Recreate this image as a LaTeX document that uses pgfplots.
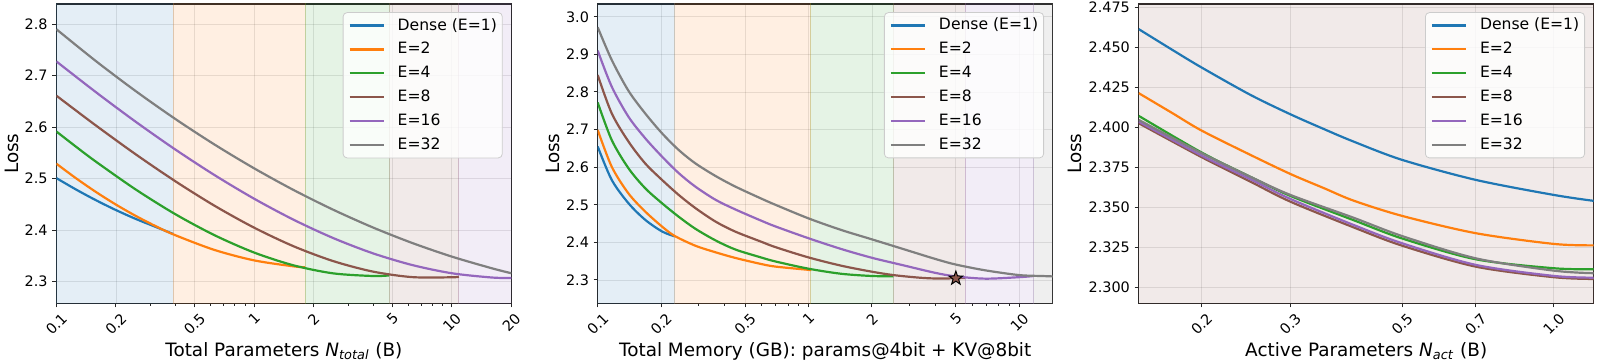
\documentclass[border=0pt]{standalone}
\usepackage{fontspec}
\setmainfont{DejaVu Sans}
\usepackage{graphicx}
\usepackage{pgfplots}
\pgfplotsset{compat=1.18}

% tab10 palette
\definecolor{cB}{HTML}{1F77B4}
\definecolor{cO}{HTML}{FF7F0E}
\definecolor{cG}{HTML}{2CA02C}
\definecolor{cR}{HTML}{8C564B}
\definecolor{cP}{HTML}{9467BD}
\definecolor{cY}{HTML}{7F7F7F}

% filled five-pointed star
\pgfdeclareplotmark{fivestar}{%
  \pgfpathmoveto{\pgfpointpolar{90}{\pgfplotmarksize}}%
  \pgfpathlineto{\pgfpointpolar{126}{0.4\pgfplotmarksize}}%
  \pgfpathlineto{\pgfpointpolar{162}{\pgfplotmarksize}}%
  \pgfpathlineto{\pgfpointpolar{198}{0.4\pgfplotmarksize}}%
  \pgfpathlineto{\pgfpointpolar{234}{\pgfplotmarksize}}%
  \pgfpathlineto{\pgfpointpolar{270}{0.4\pgfplotmarksize}}%
  \pgfpathlineto{\pgfpointpolar{306}{\pgfplotmarksize}}%
  \pgfpathlineto{\pgfpointpolar{342}{0.4\pgfplotmarksize}}%
  \pgfpathlineto{\pgfpointpolar{18}{\pgfplotmarksize}}%
  \pgfpathlineto{\pgfpointpolar{54}{0.4\pgfplotmarksize}}%
  \pgfpathclose
  \pgfusepathqfillstroke}

\newcommand{\rl}[1]{\rotatebox{45}{#1}}

\pgfplotsset{
  region/.style={draw=#1, draw opacity=0.2, line width=0.5pt,
    fill=#1, fill opacity=0.12, forget plot},
  every axis plot/.append style={line width=1.1pt},
  legend image code/.code={\draw[#1, line width=1.1pt] (0pt,0pt) -- (17pt,0pt);},
}

\begin{document}
\begin{tikzpicture}[
  every axis/.append style={
    width=227.5pt, height=149.65pt, scale only axis,
    tick pos=left, tick align=outside,
    major tick length=2pt, minor tick length=1.2pt,
    tick style={black!85, line width=0.5pt},
    axis line style={black!85, line width=0.6pt},
    grid=major, major grid style={black, opacity=0.1, line width=0.4pt},
    tick label style={font=\fontsize{7.2}{8}\selectfont},
    xticklabel style={anchor=north, inner sep=0pt, yshift=-2.2pt},
    yticklabel style={anchor=east, inner sep=0pt, xshift=-2.2pt},
    label style={font=\fontsize{9.2}{10}\selectfont},
    ylabel style={at={(axis description cs:-0.0976,0.5)}, anchor=center},
    xlabel style={at={(axis description cs:0.5,-0.1595)}, anchor=center},
    legend cell align=left,
    legend style={at={(1,1)}, anchor=north east, xshift=-4.35pt, yshift=-4.1pt,
      draw=black!20, rounded corners=2pt, fill=white, fill opacity=0.8,
      text opacity=1, font=\fontsize{7.8}{9}\selectfont,
      inner xsep=2.7pt, inner ysep=2.7pt, row sep=4.45pt,
      nodes={inner sep=0pt, text height=6pt, text depth=1.5pt},
      /tikz/every odd column/.append style={column sep=6.5pt}},
  }]

% ---------------- total parameters ----------------
\begin{axis}[xmode=log, at={(28.2pt,0pt)}, anchor=south west,
  xmin=0.1, xmax=20, ymin=2.258, ymax=2.839,
  xtick={0.1,0.2,0.5,1,2,5,10,20},
  xticklabels={\rl{0.1},\rl{0.2},\rl{0.5},\rl{1},\rl{2},\rl{5},\rl{10},\rl{20}},
  minor xtick={0.3,0.4,0.6,0.7,0.8,0.9,3,4,6,7,8,9},
  ytick={2.3,2.4,2.5,2.6,2.7,2.8},
  yticklabels={2.3,2.4,2.5,2.6,2.7,2.8},
  ylabel={Loss},
  xlabel={Total Parameters \textit{N}\textsubscript{\textit{total}} (B)}]
\addplot[region=cB] coordinates {(0.1,2.2) (0.1,2.9) (0.39,2.9) (0.39,2.2)};
\addplot[region=cO] coordinates {(0.39,2.2) (0.39,2.9) (1.81,2.9) (1.81,2.2)};
\addplot[region=cG] coordinates {(1.81,2.2) (1.81,2.9) (4.81,2.9) (4.81,2.2)};
\addplot[region=cR] coordinates {(4.81,2.2) (4.81,2.9) (10.84,2.9) (10.84,2.2)};
\addplot[region=cP] coordinates {(10.84,2.2) (10.84,2.9) (20,2.9) (20,2.2)};

\addplot[cB, smooth] coordinates {(0.1,2.501) (0.1259,2.4787) (0.1585,2.4581) (0.1995,2.4392) (0.2512,2.4220) (0.3162,2.4066) (0.39,2.3925)};
\addlegendentry{Dense (E=1)}
\addplot[cO, smooth] coordinates {(0.1,2.529) (0.1259,2.5005) (0.1585,2.4741) (0.1995,2.4499) (0.2512,2.4279) (0.3162,2.4081) (0.3981,2.3904) (0.631,2.3615) (1,2.3413) (1.585,2.3297) (1.81,2.3281)};
\addlegendentry{E=2}
\addplot[cG, smooth] coordinates {(0.1,2.5915) (0.1259,2.5617) (0.1585,2.5329) (0.2512,2.4792) (0.3981,2.4313) (0.631,2.3901) (1,2.3565) (1.585,2.3316) (2.512,2.3161) (3.981,2.3110) (4.81,2.3121)};
\addlegendentry{E=4}
\addplot[cR, smooth] coordinates {(0.1,2.661) (0.1585,2.6031) (0.2512,2.5475) (0.3981,2.4953) (0.631,2.4473) (1,2.4048) (1.585,2.3686) (2.512,2.3399) (3.981,2.3196) (6.31,2.3088) (10,2.3085) (10.84,2.3096)};
\addlegendentry{E=8}
\addplot[cP, smooth] coordinates {(0.1,2.7275) (0.1585,2.6678) (0.2512,2.6107) (0.3981,2.5569) (0.631,2.5068) (1,2.461) (1.585,2.4201) (2.512,2.3846) (3.981,2.3551) (6.31,2.3322) (10,2.3163) (15.85,2.3081) (20,2.307)};
\addlegendentry{E=16}
\addplot[cY, smooth] coordinates {(0.1,2.790) (0.1585,2.7281) (0.2512,2.6702) (0.3981,2.6162) (0.631,2.5661) (1,2.520) (1.585,2.4778) (2.512,2.4396) (3.981,2.4053) (6.31,2.3750) (10,2.3486) (15.85,2.3262) (20,2.3163)};
\addlegendentry{E=32}
\end{axis}

% ---------------- total memory ----------------
\begin{axis}[xmode=log, at={(298.85pt,0pt)}, anchor=south west,
  xmin=0.1, xmax=14.4, ymin=2.238, ymax=3.034,
  xtick={0.1,0.2,0.5,1,2,5,10},
  xticklabels={\rl{0.1},\rl{0.2},\rl{0.5},\rl{1},\rl{2},\rl{5},\rl{10}},
  minor xtick={0.3,0.4,0.6,0.7,0.8,0.9,3,4,6,7,8,9},
  ytick={2.3,2.4,2.5,2.6,2.7,2.8,2.9,3.0},
  yticklabels={2.3,2.4,2.5,2.6,2.7,2.8,2.9,3.0},
  ylabel={Loss},
  xlabel={Total Memory (GB): params@4bit + KV@8bit}]
\addplot[region=cB] coordinates {(0.1,2.2) (0.1,3.1) (0.232,3.1) (0.232,2.2)};
\addplot[region=cO] coordinates {(0.232,2.2) (0.232,3.1) (1.022,3.1) (1.022,2.2)};
\addplot[region=cG] coordinates {(1.022,2.2) (1.022,3.1) (2.53,3.1) (2.53,2.2)};
\addplot[region=cR] coordinates {(2.53,2.2) (2.53,3.1) (5.55,3.1) (5.55,2.2)};
\addplot[region=cP] coordinates {(5.55,2.2) (5.55,3.1) (11.68,3.1) (11.68,2.2)};
\addplot[region=cY] coordinates {(11.68,2.2) (11.68,3.1) (14.4,3.1) (14.4,2.2)};

\addplot[cB, smooth] coordinates {(0.1,2.655) (0.1166,2.566) (0.14,2.504) (0.168,2.460) (0.202,2.429) (0.232,2.416)};
\addlegendentry{Dense (E=1)}
\addplot[cO, smooth] coordinates {(0.1,2.699) (0.1166,2.601) (0.14,2.530) (0.168,2.482) (0.202,2.442) (0.232,2.417) (0.291,2.391) (0.363,2.3735) (0.45,2.3586) (0.595,2.3426) (0.7,2.3355) (1.0,2.327) (1.022,2.3266)};
\addlegendentry{E=2}
\addplot[cG, smooth] coordinates {(0.1,2.772) (0.1166,2.672) (0.14,2.597) (0.168,2.544) (0.202,2.504) (0.2425,2.468) (0.291,2.436) (0.363,2.405) (0.45,2.381) (0.595,2.360) (0.7,2.349) (1.0,2.330) (1.43,2.3165) (2.0,2.3106) (2.53,2.310)};
\addlegendentry{E=4}
\addplot[cR, smooth] coordinates {(0.1,2.845) (0.1166,2.743) (0.14,2.668) (0.168,2.610) (0.202,2.566) (0.2425,2.526) (0.291,2.491) (0.363,2.455) (0.45,2.4285) (0.595,2.402) (0.7,2.387) (1.0,2.360) (1.43,2.338) (2.0,2.322) (2.53,2.313) (3.3,2.3065) (3.99,2.304) (5,2.3045) (5.55,2.3055)};
\addlegendentry{E=8}
\addplot[cP, smooth] coordinates {(0.1,2.910) (0.1166,2.814) (0.14,2.734) (0.168,2.677) (0.202,2.628) (0.2425,2.584) (0.291,2.548) (0.363,2.513) (0.45,2.4875) (0.595,2.458) (0.7,2.442) (1.0,2.411) (1.43,2.3824) (2.0,2.359) (2.77,2.340) (3.99,2.319) (5,2.3095) (6.92,2.3035) (10,2.3075) (11.68,2.3105)};
\addlegendentry{E=16}
\addplot[cY, smooth] coordinates {(0.1,2.972) (0.1166,2.885) (0.14,2.803) (0.168,2.743) (0.202,2.690) (0.2425,2.6455) (0.291,2.6099) (0.363,2.5763) (0.45,2.5483) (0.595,2.5168) (0.7,2.4995) (1.0,2.4638) (1.43,2.433) (2.0,2.408) (2.77,2.3835) (3.99,2.356) (5,2.341) (6.92,2.3255) (10,2.313) (12.9,2.3105) (14.4,2.3095)};
\addlegendentry{E=32}
\addplot[only marks, mark=fivestar, mark size=3.6pt, fill=cR, draw=black, line width=0.5pt, forget plot] coordinates {(5,2.3045)};
\end{axis}

% ---------------- active parameters ----------------
\begin{axis}[xmode=log, at={(569.35pt,0pt)}, anchor=south west,
  xmin=0.15, xmax=1.2, ymin=2.290, ymax=2.477,
  xtick={0.2,0.3,0.5,0.7,1.0},
  xticklabels={\rl{0.2},\rl{0.3},\rl{0.5},\rl{0.7},\rl{1.0}},
  minor xtick={},
  ytick={2.300,2.325,2.350,2.375,2.400,2.425,2.450,2.475},
  yticklabels={2.300,2.325,2.350,2.375,2.400,2.425,2.450,2.475},
  ylabel={Loss},
  ylabel style={at={(axis description cs:-0.1391,0.5)}},
  xlabel={Active Parameters \textit{N}\textsubscript{\textit{act}} (B)}]
\addplot[region=cR] coordinates {(0.15,2.2) (0.15,2.6) (1.2,2.6) (1.2,2.2)};

\addplot[cB, smooth] coordinates {(0.15,2.4613) (0.175,2.4483) (0.2,2.4373) (0.25,2.4202) (0.3,2.4081) (0.35,2.3988) (0.4,2.3911) (0.5,2.3796) (0.7,2.3671) (1.0,2.3577) (1.2,2.354)};
\addlegendentry{Dense (E=1)}
\addplot[cO, smooth] coordinates {(0.15,2.4213) (0.175,2.4088) (0.2,2.3979) (0.25,2.3827) (0.3,2.3708) (0.35,2.3619) (0.4,2.3542) (0.5,2.3446) (0.7,2.3338) (1.0,2.3271) (1.2,2.3262)};
\addlegendentry{E=2}
\addplot[cG, smooth] coordinates {(0.15,2.4071) (0.2,2.3842) (0.25,2.369) (0.3,2.3571) (0.4,2.342) (0.5,2.3305) (0.7,2.3175) (1.0,2.3119) (1.2,2.3113)};
\addlegendentry{E=4}
\addplot[cR, smooth] coordinates {(0.15,2.4025) (0.2,2.3813) (0.25,2.366) (0.3,2.3535) (0.4,2.3375) (0.5,2.326) (0.7,2.3129) (1.0,2.3063) (1.2,2.3052)};
\addlegendentry{E=8}
\addplot[cP, smooth] coordinates {(0.15,2.4035) (0.2,2.3823) (0.25,2.3675) (0.3,2.3552) (0.4,2.339) (0.5,2.3275) (0.7,2.314) (1.0,2.3071) (1.2,2.306)};
\addlegendentry{E=16}
\addplot[cY, smooth] coordinates {(0.15,2.4046) (0.2,2.3838) (0.25,2.369) (0.3,2.3577) (0.4,2.3435) (0.5,2.332) (0.7,2.3181) (1.0,2.3104) (1.2,2.3088)};
\addlegendentry{E=32}
\end{axis}

\pgfresetboundingbox
\useasboundingbox (0pt,-29.85pt) rectangle (800pt,151.65pt);
\end{tikzpicture}
\end{document}
